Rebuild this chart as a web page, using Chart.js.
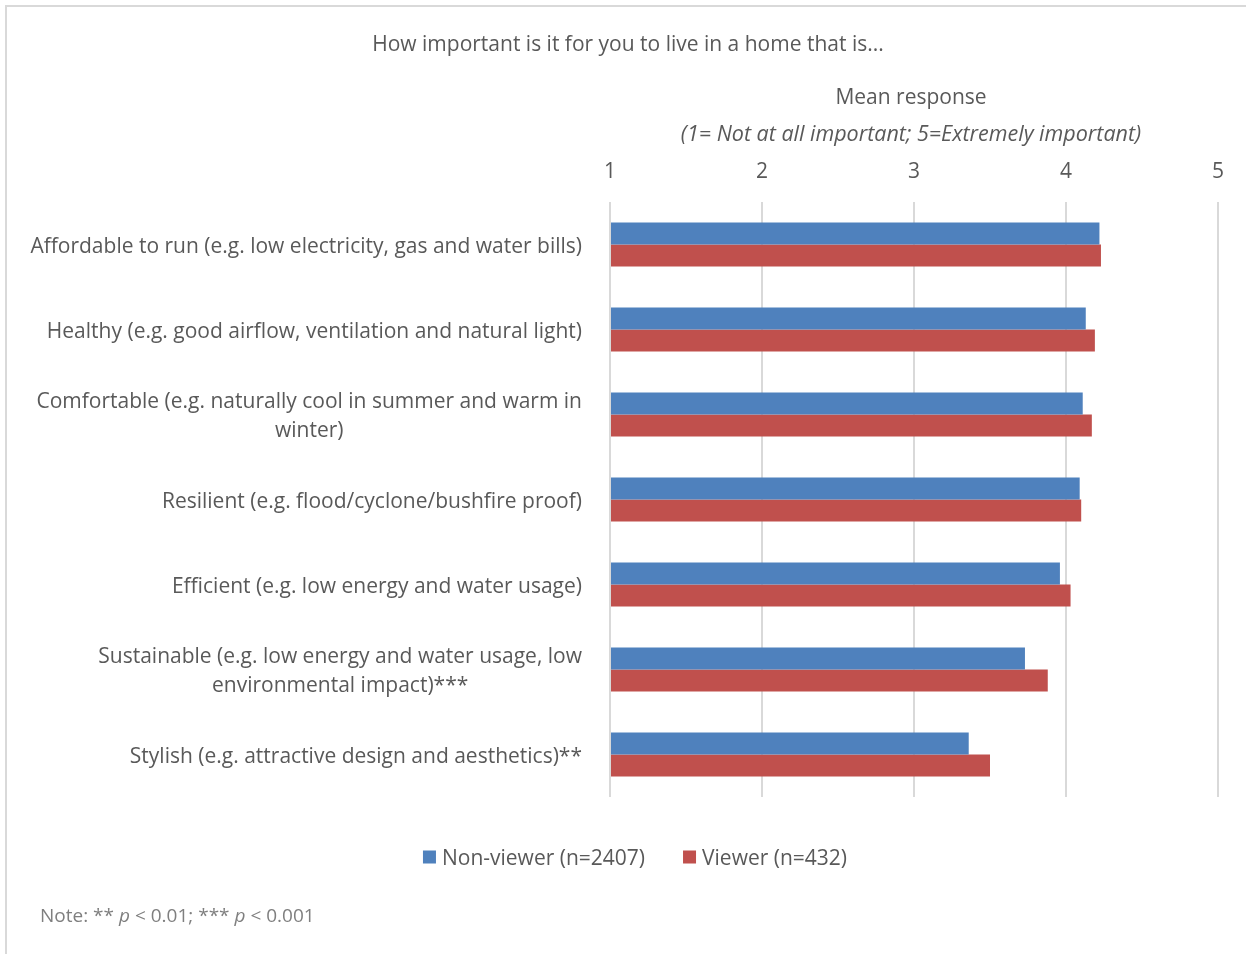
<!DOCTYPE html>
<html>
<head>
<meta charset="utf-8">
<script src="https://cdn.jsdelivr.net/npm/chart.js@4/dist/chart.umd.min.js"></script>
<style>
  html, body { margin: 0; padding: 0; background: #ffffff; }
  #wrap { width: 1246px; height: 954px; position: relative; }
  canvas { display: block; }
</style>
</head>
<body>
<div id="wrap"><canvas id="chart" width="1246" height="954"></canvas></div>
<script>
// Category labels (each entry is the list of wrapped lines)
const categories = [
  ['Affordable to run (e.g. low electricity, gas and water bills)'],
  ['Healthy (e.g. good airflow, ventilation and natural light)'],
  ['Comfortable (e.g. naturally cool in summer and warm in', 'winter)'],
  ['Resilient (e.g. flood/cyclone/bushfire proof)'],
  ['Efficient (e.g. low energy and water usage)'],
  ['Sustainable (e.g. low energy and water usage, low', 'environmental impact)***'],
  ['Stylish (e.g. attractive design and aesthetics)**']
];

// Mean response per group
const nonViewer = [4.22, 4.13, 4.11, 4.09, 3.96, 3.73, 3.36];
const viewer    = [4.23, 4.19, 4.17, 4.10, 4.03, 3.88, 3.50];

const seriesNames = ['Non-viewer (n=2407)', 'Viewer (n=432)'];
const xTickValues = [1, 2, 3, 4, 5];

const chartTitle = 'How important is it for you to live in a home that is...';
const axisTitle = 'Mean response';
const axisSubtitle = '(1= Not at all important; 5=Extremely important)';

const FONT = "'Open Sans', sans-serif";
const TEXT = '#595959';

// Titles, wrapped category labels, legend, note and frame
const decorations = {
  id: 'decorations',
  beforeDraw(chart) {
    const ctx = chart.ctx;
    ctx.save();
    ctx.strokeStyle = '#d9d9d9';
    ctx.lineWidth = 2;
    ctx.beginPath();
    ctx.moveTo(6, 960);
    ctx.lineTo(6, 6);
    ctx.lineTo(1250, 6);
    ctx.stroke();
    ctx.restore();
  },
  afterDraw(chart) {
    const ctx = chart.ctx;
    const area = chart.chartArea;
    const xs = chart.scales.x;
    const ys = chart.scales.y;
    const axisMid = (xs.left + xs.right) / 2 - 3;
    ctx.save();
    ctx.fillStyle = TEXT;
    ctx.textBaseline = 'middle';

    // chart title
    ctx.textAlign = 'center';
    ctx.font = `21px ${FONT}`;
    ctx.fillText(chartTitle, 628, 45);

    // axis title + scale description
    ctx.fillText(axisTitle, axisMid, 98);
    ctx.font = `italic 21.5px ${FONT}`;
    ctx.fillText(axisSubtitle, axisMid, 135);

    // category labels: block right-aligned, lines centered within block
    ctx.font = `21px ${FONT}`;
    const rightEdge = area.left - 28;
    const lineGap = 29;
    categories.forEach((lines, i) => {
      const cy = ys.getPixelForValue(i) + 2.5;
      const w = Math.max(...lines.map(l => ctx.measureText(l).width));
      const cx = rightEdge - w / 2;
      const y0 = cy - (lines.length - 1) * lineGap / 2;
      lines.forEach((l, k) => ctx.fillText(l, cx, y0 + k * lineGap));
    });

    // legend
    ctx.font = `21px ${FONT}`;
    ctx.textAlign = 'left';
    const box = 13, boxGap = 6, itemGap = 38;
    const items = chart.data.datasets.map(ds => ({
      label: ds.label, color: ds.backgroundColor,
      w: box + boxGap + ctx.measureText(ds.label).width
    }));
    const total = items.reduce((s, it) => s + it.w, 0) + itemGap * (items.length - 1);
    let lx = 635 - total / 2;
    const ly = 857;
    items.forEach(it => {
      ctx.fillStyle = it.color;
      ctx.fillRect(lx, ly - box / 2, box, box);
      ctx.fillStyle = TEXT;
      ctx.fillText(it.label, lx + box + boxGap, ly + 2);
      lx += it.w + itemGap;
    });

    // significance note
    ctx.fillStyle = '#7f7f7f';
    const note = [['Note: ** ', false], ['p', true], [' < 0.01; *** ', false], ['p', true], [' < 0.001', false]];
    let nx = 40;
    note.forEach(([t, it]) => {
      ctx.font = `${it ? 'italic ' : ''}19px ${FONT}`;
      ctx.fillText(t, nx, 917);
      nx += ctx.measureText(t).width;
    });
    ctx.restore();
  }
};

new Chart(document.getElementById('chart'), {
  type: 'bar',
  data: {
    labels: categories,
    datasets: [
      { label: seriesNames[0], data: nonViewer, backgroundColor: '#4f81bd' },
      { label: seriesNames[1], data: viewer, backgroundColor: '#c0504d' }
    ]
  },
  options: {
    indexAxis: 'y',
    responsive: false,
    animation: false,
    base: 1,
    datasets: { bar: { barPercentage: 1, categoryPercentage: 44 / 85 } },
    layout: { padding: { left: 52, right: 28, top: 0, bottom: 157 } },
    plugins: {
      legend: { display: false },
      title: { display: false },
      tooltip: { enabled: false }
    },
    scales: {
      x: {
        position: 'top',
        min: 1,
        max: 5,
        afterBuildTicks(scale) { scale.ticks = xTickValues.map(v => ({ value: v })); },
        afterFit(scale) { scale.height = 202; },
        ticks: { color: TEXT, font: { family: FONT, size: 21 }, padding: 17 },
        grid: { color: '#d9d9d9', lineWidth: 2, drawTicks: false },
        border: { display: false }
      },
      y: {
        afterFit(scale) { scale.width = 558; },
        ticks: { display: false },
        grid: { display: false },
        border: { display: false }
      }
    }
  },
  plugins: [decorations]
});
</script>
</body>
</html>
